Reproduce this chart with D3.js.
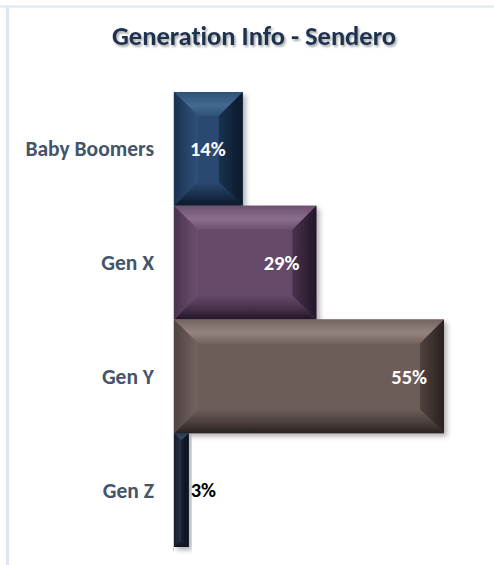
<!DOCTYPE html>
<html>
<head>
<meta charset="utf-8">
<script src="https://cdn.jsdelivr.net/npm/d3@7"></script>
<style>
  html, body { margin: 0; padding: 0; background: #fff; }
  svg { display: block; }
  text { font-family: Carlito, Lato, "Open Sans", sans-serif; font-weight: bold; font-variant-ligatures: none; }
</style>
</head>
<body>
<svg id="chart" width="494" height="565"></svg>
<script>
// ---- data ----
const title = "Generation Info - Sendero";
const categories = ["Baby Boomers", "Gen X", "Gen Y", "Gen Z"];
const values = [14, 29, 55, 3];
const valueLabels = ["14%", "29%", "55%", "3%"];

// ---- styles ----
const palette = {
  "Baby Boomers": { base: "#2a4a70", light: "#44698f", lite2: "#2f5278", dark: "#0b1828", dark2: "#1a3250" },
  "Gen X":        { base: "#664968", light: "#8b6d8d", lite2: "#6d5070", dark: "#22152a", dark2: "#4a334c" },
  "Gen Y":        { base: "#6d5d59", light: "#94837e", lite2: "#75645f", dark: "#2a201e", dark2: "#4f423f" },
  "Gen Z":        { base: "#1e2a3b", light: "#3a4a5e", lite2: "#26344a", dark: "#0b121c", dark2: "#151e2a" }
};

const svg = d3.select("#chart");
const W = 494, H = 565;

// frame lines
svg.append("line").attr("x1", 0).attr("x2", W).attr("y1", 6.5).attr("y2", 6.5)
  .attr("stroke", "#e1e6ee").attr("stroke-width", 2);
svg.append("line").attr("x1", 7.5).attr("x2", 7.5).attr("y1", 7).attr("y2", H)
  .attr("stroke", "#e1e6ee").attr("stroke-width", 3);

const defs = svg.append("defs");
const shadow = defs.append("filter").attr("id", "shadow")
  .attr("x", "-10%").attr("y", "-10%").attr("width", "130%").attr("height", "130%");
shadow.append("feDropShadow").attr("dx", 3).attr("dy", 3).attr("stdDeviation", 2.5)
  .attr("flood-color", "#000").attr("flood-opacity", 0.3);
const tshadow = defs.append("filter").attr("id", "tshadow")
  .attr("x", "-10%").attr("y", "-30%").attr("width", "120%").attr("height", "160%");
tshadow.append("feDropShadow").attr("dx", 1.5).attr("dy", 2).attr("stdDeviation", 1.2)
  .attr("flood-color", "#000").attr("flood-opacity", 0.35);

// title
svg.append("text").attr("x", 254).attr("y", 45)
  .attr("text-anchor", "middle").attr("font-size", 26.5).attr("fill", "#1b3050")
  .attr("filter", "url(#tshadow)").text(title);

// scales
const x = d3.scaleLinear().domain([0, 55]).range([174, 444]);
const y = d3.scaleBand().domain(categories).range([92, 547]).padding(0);

// gradients per category
categories.forEach((c, i) => {
  const p = palette[c];
  const gt = defs.append("linearGradient").attr("id", "gt" + i).attr("x1", 0).attr("y1", 0).attr("x2", 0).attr("y2", 1);
  gt.append("stop").attr("offset", "0%").attr("stop-color", p.lite2);
  gt.append("stop").attr("offset", "55%").attr("stop-color", p.light);
  gt.append("stop").attr("offset", "100%").attr("stop-color", p.lite2);
  const gr = defs.append("linearGradient").attr("id", "gr" + i).attr("x1", 0).attr("y1", 0).attr("x2", 1).attr("y2", 0);
  gr.append("stop").attr("offset", "0%").attr("stop-color", p.dark2);
  gr.append("stop").attr("offset", "100%").attr("stop-color", p.dark);
  const gb = defs.append("linearGradient").attr("id", "gb" + i).attr("x1", 0).attr("y1", 0).attr("x2", 0).attr("y2", 1);
  gb.append("stop").attr("offset", "0%").attr("stop-color", p.base);
  gb.append("stop").attr("offset", "50%").attr("stop-color", p.dark2);
  gb.append("stop").attr("offset", "100%").attr("stop-color", p.dark);
  const gl = defs.append("linearGradient").attr("id", "gl" + i).attr("x1", 0).attr("y1", 0).attr("x2", 1).attr("y2", 0);
  gl.append("stop").attr("offset", "0%").attr("stop-color", p.dark2);
  gl.append("stop").attr("offset", "100%").attr("stop-color", p.lite2);
});

// axis line
svg.append("line").attr("x1", x(0) - 0.5).attr("x2", x(0) - 0.5)
  .attr("y1", y.range()[0]).attr("y2", y.range()[1] + 4)
  .attr("stroke", "#d0d4da").attr("stroke-width", 1);

// bars
const bars = svg.append("g").selectAll("g.bar").data(categories).join("g")
  .attr("class", "bar").attr("filter", "url(#shadow)");

bars.each(function (c, i) {
  const g = d3.select(this);
  const x0 = x(0), x1 = x(values[i]);
  const y0 = y(c), y1 = y(c) + y.bandwidth();
  const b = Math.min(24, (x1 - x0) / 2, (y1 - y0) / 2);
  const p = palette[c];
  g.append("rect").attr("x", x0).attr("y", y0).attr("width", x1 - x0).attr("height", y1 - y0).attr("fill", p.base);
  const poly = pts => pts.map(q => q.join(",")).join(" ");
  g.append("polygon").attr("points", poly([[x0, y0], [x1, y0], [x1 - b, y0 + b], [x0 + b, y0 + b]])).attr("fill", `url(#gt${i})`);
  g.append("polygon").attr("points", poly([[x0, y1], [x1, y1], [x1 - b, y1 - b], [x0 + b, y1 - b]])).attr("fill", `url(#gb${i})`);
  g.append("polygon").attr("points", poly([[x0, y0], [x0 + b, y0 + b], [x0 + b, y1 - b], [x0, y1]])).attr("fill", `url(#gl${i})`);
  g.append("polygon").attr("points", poly([[x1, y0], [x1 - b, y0 + b], [x1 - b, y1 - b], [x1, y1]])).attr("fill", `url(#gr${i})`);
});

// category labels
svg.append("g").selectAll("text").data(categories).join("text")
  .attr("x", 154).attr("y", d => y(d) + y.bandwidth() / 2)
  .attr("dy", "0.35em").attr("text-anchor", "end")
  .attr("font-size", 21.5).attr("fill", "#44546a").text(d => d);

// value labels
svg.append("g").selectAll("text").data(categories).join("text")
  .attr("x", (d, i) => values[i] >= 10 ? x(values[i]) - 17 : x(values[i]) + 2)
  .attr("y", d => y(d) + y.bandwidth() / 2)
  .attr("dy", "0.35em")
  .attr("text-anchor", (d, i) => values[i] >= 10 ? "end" : "start")
  .attr("font-size", 20.5)
  .attr("fill", (d, i) => values[i] >= 10 ? "#ffffff" : "#000000")
  .text((d, i) => valueLabels[i]);
</script>
</body>
</html>
